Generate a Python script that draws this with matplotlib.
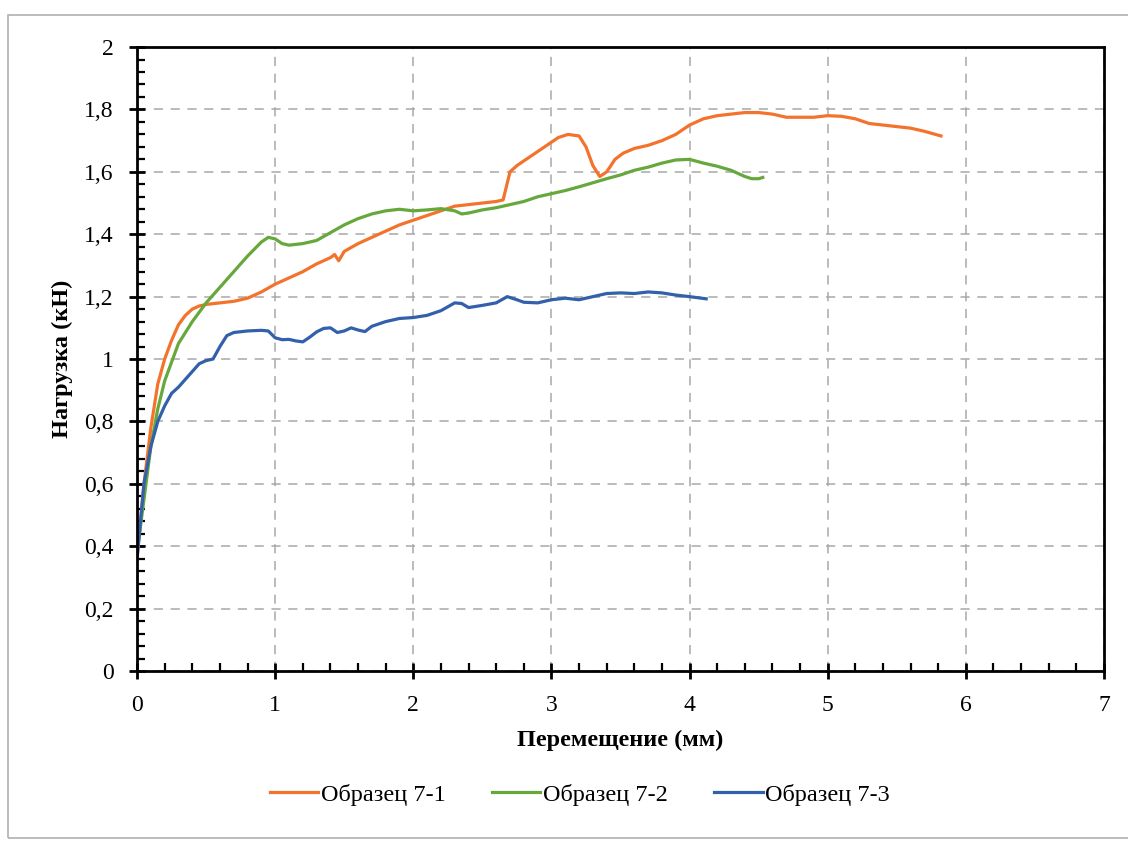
import matplotlib.pyplot as plt
import numpy as np
from matplotlib.ticker import MultipleLocator, FuncFormatter
from matplotlib.patches import Rectangle

plt.rcParams['font.family'] = ['Liberation Serif', 'DejaVu Serif']

# Образец 7-1
x1 = [0, 0.05, 0.1, 0.15, 0.2, 0.25, 0.3, 0.35, 0.4, 0.45, 0.5, 0.6, 0.7, 0.8, 0.9, 1.0,
      1.1, 1.2, 1.3, 1.4, 1.43, 1.46, 1.5, 1.6, 1.7, 1.8, 1.9, 2.0, 2.1, 2.2, 2.3, 2.4,
      2.5, 2.6, 2.65, 2.7, 2.75, 2.85, 2.95, 3.05, 3.12, 3.2, 3.25, 3.3, 3.35, 3.4, 3.46,
      3.52, 3.6, 3.7, 3.8, 3.9, 4.0, 4.1, 4.2, 4.3, 4.4, 4.5, 4.6, 4.7, 4.8, 4.9, 5.0,
      5.1, 5.2, 5.3, 5.4, 5.5, 5.6, 5.7, 5.82]
y1 = [0.36, 0.6, 0.78, 0.92, 1.0, 1.06, 1.11, 1.14, 1.16, 1.17, 1.175, 1.18, 1.185, 1.195,
      1.215, 1.24, 1.26, 1.28, 1.305, 1.325, 1.335, 1.315, 1.345, 1.37, 1.39, 1.41, 1.43,
      1.445, 1.46, 1.475, 1.49, 1.495, 1.5, 1.505, 1.51, 1.6, 1.62, 1.65, 1.68, 1.71, 1.72,
      1.715, 1.68, 1.62, 1.585, 1.6, 1.64, 1.66, 1.675, 1.685, 1.7, 1.72, 1.75, 1.77, 1.78,
      1.785, 1.79, 1.79, 1.785, 1.775, 1.775, 1.775, 1.78, 1.778, 1.77, 1.755, 1.75, 1.745,
      1.74, 1.73, 1.715]

# Образец 7-2
x2 = [0, 0.05, 0.1, 0.15, 0.2, 0.3, 0.4, 0.5, 0.6, 0.7, 0.8, 0.9, 0.95, 1.0, 1.05, 1.1,
      1.2, 1.3, 1.4, 1.5, 1.6, 1.7, 1.8, 1.9, 2.0, 2.1, 2.2, 2.3, 2.35, 2.4, 2.5, 2.6, 2.7,
      2.8, 2.9, 3.0, 3.1, 3.2, 3.3, 3.4, 3.5, 3.6, 3.7, 3.8, 3.9, 4.0, 4.1, 4.2, 4.3, 4.4,
      4.45, 4.5, 4.53]
y2 = [0.38, 0.55, 0.72, 0.84, 0.93, 1.05, 1.12, 1.18, 1.23, 1.28, 1.33, 1.375, 1.39, 1.385,
      1.37, 1.365, 1.37, 1.38, 1.405, 1.43, 1.45, 1.465, 1.475, 1.48, 1.475, 1.478, 1.482,
      1.475, 1.465, 1.468, 1.478, 1.485, 1.495, 1.505, 1.52, 1.53, 1.54, 1.552, 1.565,
      1.578, 1.59, 1.605, 1.615, 1.628, 1.638, 1.64, 1.628, 1.618, 1.605, 1.585, 1.578,
      1.578, 1.582]

# Образец 7-3
x3 = [0, 0.05, 0.1, 0.15, 0.2, 0.25, 0.3, 0.4, 0.45, 0.5, 0.55, 0.6, 0.65, 0.7, 0.8, 0.9,
      0.95, 1.0, 1.05, 1.1, 1.15, 1.2, 1.25, 1.3, 1.35, 1.4, 1.45, 1.5, 1.55, 1.6, 1.65,
      1.7, 1.8, 1.9, 2.0, 2.1, 2.2, 2.3, 2.35, 2.4, 2.5, 2.6, 2.68, 2.75, 2.8, 2.9, 3.0,
      3.1, 3.2, 3.3, 3.4, 3.5, 3.6, 3.7, 3.8, 3.9, 4.0, 4.12]
y3 = [0.36, 0.6, 0.72, 0.8, 0.85, 0.89, 0.91, 0.96, 0.985, 0.995, 1.0, 1.04, 1.075, 1.085,
      1.09, 1.092, 1.09, 1.068, 1.062, 1.063, 1.058, 1.055, 1.07, 1.087, 1.098, 1.1, 1.085,
      1.09, 1.1, 1.093, 1.088, 1.105, 1.12, 1.13, 1.133, 1.14, 1.155, 1.18, 1.178, 1.165,
      1.172, 1.18, 1.2, 1.19, 1.182, 1.18, 1.19, 1.195, 1.19, 1.2, 1.21, 1.212, 1.21,
      1.215, 1.212, 1.205, 1.2, 1.193]

labels = ["Образец 7-1", "Образец 7-2", "Образец 7-3"]
colors = ["#F3732C", "#66A83B", "#3260AA"]

fig = plt.figure(figsize=(11.28, 8.43), dpi=100)
ax = fig.add_axes([0.1215, 0.204, 0.8572, 0.7402])

# light frame around the whole chart
fig.patches.append(Rectangle((8 / 1128, 5 / 843), 1.2, 823 / 843, transform=fig.transFigure,
                             fill=False, edgecolor="#b0b0b0", linewidth=1.2))

for xs, ys, lab, c in zip([x1, x2, x3], [y1, y2, y3], labels, colors):
    ax.plot(xs, ys, color=c, linewidth=2.3, label=lab)

ax.set_xlim(0, 7)
ax.set_ylim(0, 2)
ax.xaxis.set_major_locator(MultipleLocator(1))
ax.xaxis.set_minor_locator(MultipleLocator(0.2))
ax.yaxis.set_major_locator(MultipleLocator(0.2))
ax.yaxis.set_minor_locator(MultipleLocator(0.04))
fmt = FuncFormatter(lambda v, p: ("%g" % round(v, 2)).replace(".", ","))
ax.xaxis.set_major_formatter(fmt)
ax.yaxis.set_major_formatter(fmt)

ax.grid(True, which="major", color="#a8a8a8", linestyle=(0, (6, 5)), linewidth=1.1)
ax.tick_params(which="major", direction="inout", length=12, width=2, labelsize=17)
ax.tick_params(axis="x", which="major", pad=11)
ax.tick_params(axis="y", which="major", pad=11)
ax.tick_params(which="minor", direction="in", length=6, width=1.6)
for s in ax.spines.values():
    s.set_linewidth(2)
    s.set_color("black")

ax.set_xlabel("Перемещение (мм)", fontsize=17.5, fontweight="bold", labelpad=10)
ax.set_ylabel("Нагрузка (кН)", fontsize=17.5, fontweight="bold", labelpad=8)

fig.legend(loc="center", bbox_to_anchor=(0.514, 0.057), ncol=3, frameon=False, fontsize=17.5,
           handlelength=2.0, handletextpad=0.1, columnspacing=1.9)

plt.savefig("out.png", dpi=100)
